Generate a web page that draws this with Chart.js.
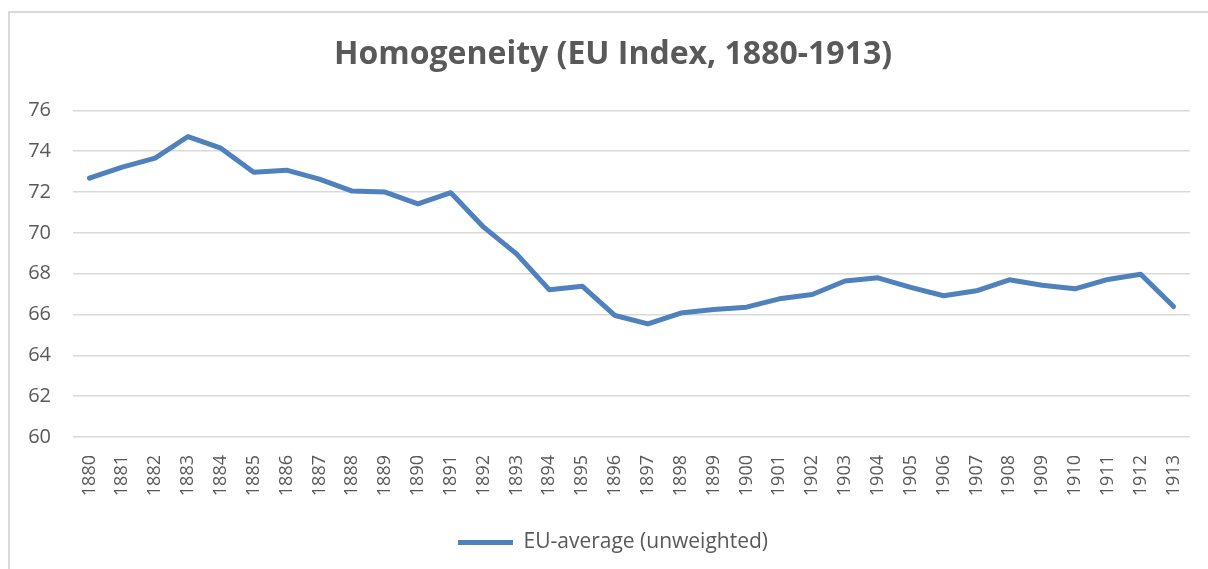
<!DOCTYPE html>
<html>
<head>
<meta charset="utf-8">
<script src="https://cdn.jsdelivr.net/npm/chart.js"></script>
<style>
  body { margin: 0; background: #fff; overflow: hidden; }
  .frame { position: absolute; left: 8px; top: 11px; width: 1400px; height: 800px; border: 2px solid #d9d9d9; }
  .wrap { position: absolute; left: 0; top: 0; width: 1208px; height: 569px; }
</style>
</head>
<body>
<div class="frame"></div>
<div class="wrap"><canvas id="homog" width="1208" height="569"></canvas></div>
<script>
// years + values
var years = ["1880","1881","1882","1883","1884","1885","1886","1887","1888","1889",
             "1890","1891","1892","1893","1894","1895","1896","1897","1898","1899",
             "1900","1901","1902","1903","1904","1905","1906","1907","1908","1909",
             "1910","1911","1912","1913"];
var euAverage = [72.68, 73.22, 73.66, 74.72, 74.15, 72.97, 73.07, 72.63, 72.05, 72.00,
                 71.42, 71.97, 70.28, 68.97, 67.21, 67.39, 65.95, 65.54, 66.07, 66.25,
                 66.36, 66.77, 66.98, 67.64, 67.80, 67.33, 66.92, 67.16, 67.70, 67.43,
                 67.26, 67.72, 67.97, 66.39];
var yMin = 60, yMax = 76, yStep = 2;

var grey = "#595959";

new Chart("homog", {
  type: "line",
  data: {
    labels: years,
    datasets: [{
      label: "EU-average (unweighted)",
      data: euAverage,
      borderColor: "#4f81bd",
      backgroundColor: "#4f81bd",
      borderWidth: 5,
      borderCapStyle: "round",
      borderJoinStyle: "round",
      pointRadius: 0,
      tension: 0
    }]
  },
  options: {
    responsive: false,
    animation: false,
    // uneven padding so title/legend sit a bit right of centre like the original
    layout: { padding: { left: 26, right: 8, top: 0, bottom: 6 } },
    plugins: {
      title: {
        display: true,
        text: "Homogeneity (EU Index, 1880-1913)",
        color: grey,
        font: { family: "Open Sans", size: 32, weight: "bold" },
        padding: { top: 36, bottom: 36 }
      },
      legend: {
        position: "bottom",
        labels: {
          color: grey,
          font: { family: "Open Sans", size: 21 },
          usePointStyle: true,
          pointStyle: "line",
          pointStyleWidth: 55,
          padding: 10
        }
      },
      tooltip: { enabled: false }
    },
    scales: {
      x: {
        offset: true,
        grid: { display: false, drawTicks: false },
        border: { display: false },
        ticks: {
          color: grey,
          font: { family: "Open Sans", size: 18 },
          minRotation: 90,
          maxRotation: 90,
          autoSkip: false,
          padding: 18
        },
        afterFit: function(scale) {
          scale.height = 85;
          scale.paddingLeft = 0;
          scale.paddingRight = 18;   // plot ends at ~1190
        }
      },
      y: {
        min: yMin,
        max: yMax,
        grid: { color: "#d9d9d9", lineWidth: 1.5, drawTicks: false },
        border: { display: false },
        ticks: {
          stepSize: yStep,
          color: grey,
          font: { family: "Open Sans", size: 20 },
          padding: 22
        },
        afterFit: function(scale) { scale.width = 47; }
      }
    }
  }
});
</script>
</body>
</html>
